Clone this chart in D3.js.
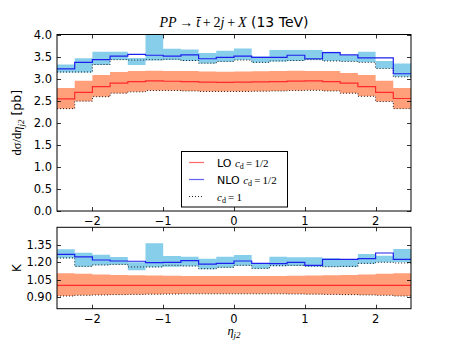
<!DOCTYPE html>
<html>
<head>
<meta charset="utf-8">
<script src="https://cdn.jsdelivr.net/npm/d3@7"></script>
<style>
  body { margin: 0; background: #fff; }
  svg text { font-family: "DejaVu Sans", sans-serif; }
  .math { font-family: "Liberation Serif", serif; font-style: italic; }
  .mathrm { font-family: "Liberation Serif", serif; font-style: normal; }
</style>
</head>
<body>
<div id="chart"></div>
<script>
'use strict';

// bin edges in eta_j2 (20 bins of 0.25)
const binEdges = [-2.5, -2.25, -2.0, -1.75, -1.5, -1.25, -1.0, -0.75, -0.5, -0.25, 0,
  0.25, 0.5, 0.75, 1.0, 1.25, 1.5, 1.75, 2.0, 2.25, 2.5];

// top panel, d sigma / d eta [pb]
const loCentral = [2.54, 2.69, 2.82, 2.90, 2.93, 2.95, 2.94, 2.93, 2.92, 2.915,
  2.92, 2.925, 2.93, 2.945, 2.947, 2.93, 2.90, 2.82, 2.69, 2.55];
const loUp = [2.79, 2.95, 3.08, 3.15, 3.175, 3.18, 3.175, 3.17, 3.16, 3.155,
  3.16, 3.165, 3.17, 3.18, 3.175, 3.17, 3.13, 3.08, 2.95, 2.79];
const loDown = [2.32, 2.49, 2.59, 2.67, 2.70, 2.73, 2.73, 2.72, 2.71, 2.71,
  2.71, 2.715, 2.72, 2.73, 2.735, 2.72, 2.67, 2.60, 2.48, 2.32];
const loCd1 = [2.32, 2.49, 2.59, 2.67, 2.70, 2.73, 2.73, 2.72, 2.71, 2.71,
  2.71, 2.715, 2.72, 2.73, 2.735, 2.72, 2.67, 2.60, 2.48, 2.32];

const nloCentral = [3.22, 3.37, 3.43, 3.51, 3.55, 3.53, 3.51, 3.54, 3.45, 3.48,
  3.51, 3.48, 3.48, 3.53, 3.45, 3.59, 3.54, 3.47, 3.47, 3.11];
const nloUp = [3.32, 3.46, 3.61, 3.61, 3.47, 4.05, 3.675, 3.66, 3.58, 3.63,
  3.68, 3.50, 3.65, 3.65, 3.65, 3.61, 3.53, 3.61, 3.40, 3.34];
const nloDown = [3.14, 3.14, 3.31, 3.42, 3.31, 3.41, 3.42, 3.40, 3.34, 3.38,
  3.42, 3.36, 3.39, 3.40, 3.42, 3.40, 3.39, 3.37, 3.23, 3.04];
const nloCd1 = [3.15, 3.15, 3.32, 3.43, 3.42, 3.43, 3.44, 3.41, 3.35, 3.39,
  3.42, 3.37, 3.40, 3.41, 3.43, 3.40, 3.39, 3.37, 3.23, 3.04];

// bottom panel, K factor
const kLoCentral = [1.0, 1.0, 1.0, 1.0, 1.0, 1.0, 1.0, 1.0, 1.0, 1.0,
  1.0, 1.0, 1.0, 1.0, 1.0, 1.0, 1.0, 1.0, 1.0, 1.0];
const kLoUp = [1.104, 1.10, 1.094, 1.09, 1.087, 1.085, 1.083, 1.081, 1.081, 1.081,
  1.081, 1.081, 1.081, 1.083, 1.085, 1.087, 1.09, 1.094, 1.10, 1.104];
const kLoDown = [0.909, 0.915, 0.918, 0.921, 0.923, 0.925, 0.926, 0.928, 0.928, 0.928,
  0.928, 0.928, 0.928, 0.926, 0.925, 0.923, 0.921, 0.918, 0.915, 0.909];
const kNloCentral = [1.268, 1.245, 1.219, 1.210, 1.208, 1.196, 1.199, 1.213, 1.184, 1.190,
  1.210, 1.190, 1.187, 1.199, 1.173, 1.225, 1.225, 1.230, 1.279, 1.225];
const kNloUp = [1.311, 1.282, 1.264, 1.245, 1.199, 1.362, 1.253, 1.247, 1.230, 1.247,
  1.262, 1.193, 1.247, 1.242, 1.242, 1.233, 1.222, 1.270, 1.256, 1.313];
const kNloDown = [1.233, 1.161, 1.173, 1.178, 1.130, 1.156, 1.161, 1.164, 1.139, 1.153,
  1.170, 1.144, 1.164, 1.167, 1.161, 1.159, 1.159, 1.187, 1.199, 1.199];
const kNloCd1 = [1.236, 1.164, 1.176, 1.181, 1.159, 1.159, 1.173, 1.167, 1.144, 1.156,
  1.173, 1.147, 1.170, 1.173, 1.167, 1.161, 1.164, 1.190, 1.199, 1.193];

const topTicks = [0.0, 0.5, 1.0, 1.5, 2.0, 2.5, 3.0, 3.5, 4.0];
const kTicks = [0.90, 1.05, 1.20, 1.35];
const xTicks = [-2, -1, 0, 1, 2];

const colors = {
  loBand: '#ffa07a',
  nloBand: '#87ceeb',
  loLine: '#ff2a2a',
  nloLine: '#2020ee'
};

const width = 457, height = 343;
const left = 57, right = 411;
const topPanel = {y0: 34.5, y1: 211, domain: [0, 4]};
const kPanel = {y0: 227.3, y1: 308.7, domain: [0.8, 1.5]};

const x = d3.scaleLinear().domain([-2.5, 2.5]).range([left, right]);

const svg = d3.select('#chart').append('svg')
  .attr('width', width).attr('height', height);

// turn per-bin values into step points (last value repeated at the final edge)
function steps(vals) {
  return binEdges.map((e, i) => ({x: e, v: vals[Math.min(i, vals.length - 1)]}));
}
function stepBand(lo, hi) {
  return binEdges.map((e, i) => {
    const j = Math.min(i, lo.length - 1);
    return {x: e, lo: lo[j], hi: hi[j]};
  });
}

function drawPanel(p, id, series, ticks, tickFmt) {
  const y = d3.scaleLinear().domain(p.domain).range([p.y1, p.y0]);

  svg.append('clipPath').attr('id', id)
    .append('rect').attr('x', left).attr('y', p.y0)
    .attr('width', right - left).attr('height', p.y1 - p.y0);

  const g = svg.append('g').attr('clip-path', `url(#${id})`);

  const area = d3.area().curve(d3.curveStepAfter)
    .x(d => x(d.x)).y0(d => y(d.lo)).y1(d => y(d.hi));
  const line = d3.line().curve(d3.curveStepAfter)
    .x(d => x(d.x)).y(d => y(d.v));

  g.append('path').datum(stepBand(series.loDown, series.loUp))
    .attr('d', area).attr('fill', colors.loBand).attr('stroke', 'none');
  g.append('path').datum(stepBand(series.nloDown, series.nloUp))
    .attr('d', area).attr('fill', colors.nloBand).attr('stroke', 'none');

  g.append('path').datum(steps(series.loCd1))
    .attr('d', line).attr('fill', 'none').attr('stroke', '#222')
    .attr('stroke-width', 1).attr('stroke-dasharray', '1,2');
  g.append('path').datum(steps(series.nloCd1))
    .attr('d', line).attr('fill', 'none').attr('stroke', '#222')
    .attr('stroke-width', 1).attr('stroke-dasharray', '1,2');

  g.append('path').datum(steps(series.loCentral))
    .attr('d', line).attr('fill', 'none').attr('stroke', colors.loLine)
    .attr('stroke-width', 1.2);
  g.append('path').datum(steps(series.nloCentral))
    .attr('d', line).attr('fill', 'none').attr('stroke', colors.nloLine)
    .attr('stroke-width', 1.2);

  // axes, ticks pointing inwards on all four sides
  const ax = svg.append('g').attr('font-size', 11.5).attr('fill', '#000');
  const tl = 4;
  ticks.forEach(t => {
    const yy = Math.round(y(t)) + 0.5;
    ax.append('line').attr('x1', left).attr('x2', left + tl).attr('y1', yy).attr('y2', yy)
      .attr('stroke', '#000').attr('stroke-width', 0.8);
    ax.append('line').attr('x1', right - tl).attr('x2', right).attr('y1', yy).attr('y2', yy)
      .attr('stroke', '#000').attr('stroke-width', 0.8);
    ax.append('text').attr('x', left - 5).attr('y', y(t)).attr('dy', '0.36em')
      .attr('text-anchor', 'end').text(tickFmt(t));
  });
  xTicks.forEach(t => {
    const xx = Math.round(x(t)) + 0.5;
    ax.append('line').attr('x1', xx).attr('x2', xx).attr('y1', p.y1).attr('y2', p.y1 - tl)
      .attr('stroke', '#000').attr('stroke-width', 0.8);
    ax.append('line').attr('x1', xx).attr('x2', xx).attr('y1', p.y0).attr('y2', p.y0 + tl)
      .attr('stroke', '#000').attr('stroke-width', 0.8);
    ax.append('text').attr('x', x(t)).attr('y', p.y1 + 14)
      .attr('text-anchor', 'middle').text(t < 0 ? '\u2212' + Math.abs(t) : String(t));
  });
  svg.append('rect').attr('x', left).attr('y', p.y0)
    .attr('width', right - left).attr('height', p.y1 - p.y0)
    .attr('fill', 'none').attr('stroke', '#000').attr('stroke-width', 1);
  return y;
}

drawPanel(topPanel, 'clipTop', {
  loCentral, loUp, loDown, loCd1, nloCentral, nloUp, nloDown, nloCd1
}, topTicks, d3.format('.1f'));

drawPanel(kPanel, 'clipK', {
  loCentral: kLoCentral, loUp: kLoUp, loDown: kLoDown, loCd1: kLoDown,
  nloCentral: kNloCentral, nloUp: kNloUp, nloDown: kNloDown, nloCd1: kNloCd1
}, kTicks, d3.format('.2f'));

// title
const title = svg.append('text').attr('x', 234).attr('y', 27)
  .attr('text-anchor', 'middle').attr('font-size', 14);
title.append('tspan').attr('class', 'math').text('PP\u2009\u2192\u2009t\u0304\u2009');
title.append('tspan').attr('class', 'mathrm').text('+\u20092');
title.append('tspan').attr('class', 'math').text('j\u2009');
title.append('tspan').attr('class', 'mathrm').text('+\u2009');
title.append('tspan').attr('class', 'math').text('X');
title.append('tspan').text(' (13 TeV)');

// y labels
const yl = svg.append('text').attr('transform', `translate(21,${(topPanel.y0 + topPanel.y1) / 2}) rotate(-90)`)
  .attr('text-anchor', 'middle').attr('font-size', 12.5);
yl.append('tspan').attr('class', 'mathrm').text('d\u03c3/d');
yl.append('tspan').attr('class', 'math').text('\u03b7');
yl.append('tspan').attr('class', 'math').attr('font-size', 9).attr('dy', 3).text('j2');
yl.append('tspan').attr('dy', -3).text(' [pb]');

svg.append('text').attr('transform', `translate(21,${(kPanel.y0 + kPanel.y1) / 2}) rotate(-90)`)
  .attr('text-anchor', 'middle').attr('font-size', 12).text('K');

// x label
const xl = svg.append('text').attr('x', 234).attr('y', 335)
  .attr('text-anchor', 'middle').attr('font-size', 12.5);
xl.append('tspan').attr('class', 'math').text('\u03b7');
xl.append('tspan').attr('class', 'math').attr('font-size', 9).attr('dy', 3).text('j2');

// legend
const legendItems = [
  {label: 'LO', value: '1/2', stroke: colors.loLine, dash: null},
  {label: 'NLO', value: '1/2', stroke: colors.nloLine, dash: null},
  {label: '', value: '1', stroke: '#222', dash: '1,2'}
];
const lg = svg.append('g').attr('transform', 'translate(181,151)');
lg.append('rect').attr('x', 0.5).attr('y', 0.5).attr('width', 106).attr('height', 55.5)
  .attr('fill', '#fff').attr('stroke', '#000').attr('stroke-width', 1);
legendItems.forEach((d, i) => {
  const yy = 11.5 + i * 17;
  lg.append('line').attr('x1', 8).attr('x2', 23).attr('y1', yy).attr('y2', yy)
    .attr('stroke', d.stroke).attr('stroke-width', 1.2)
    .attr('stroke-opacity', d.dash ? 1 : 0.7)
    .attr('stroke-dasharray', d.dash);
  const t = lg.append('text').attr('x', 36).attr('y', yy + 4).attr('font-size', 11);
  if (d.label) t.append('tspan').text(d.label + ' ');
  t.append('tspan').attr('class', 'math').text('c');
  t.append('tspan').attr('class', 'mathrm').attr('font-size', 8)
    .attr('dy', 2).text('d');
  t.append('tspan').attr('class', 'mathrm').attr('dy', -2)
    .text('\u2009=\u2009' + d.value);
});
</script>
</body>
</html>
